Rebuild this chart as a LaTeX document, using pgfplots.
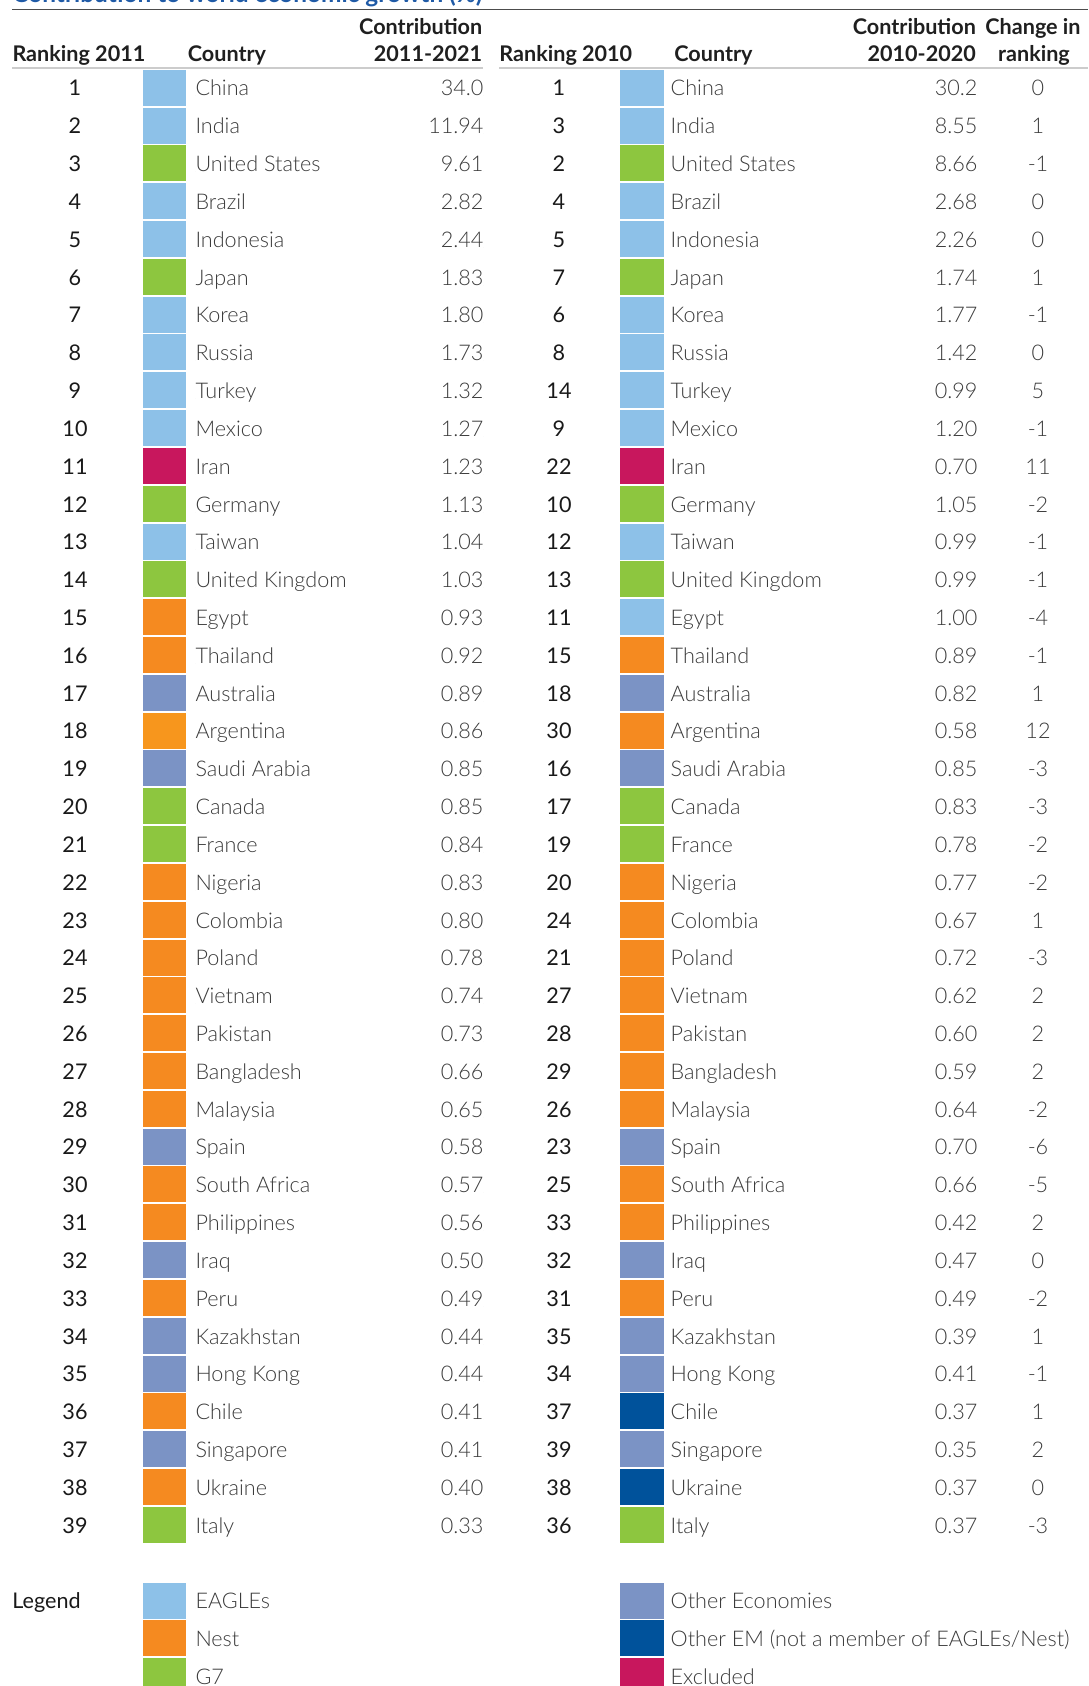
\documentclass[border=0pt]{standalone}
\usepackage{fontspec}
\usepackage{pgfplots}
\usepackage{pgfplotstable}
\pgfplotsset{compat=1.18}
\setmainfont{Lato Light}
\newfontfamily\reg{Lato}
\newfontfamily\hdr{Lato Bold}

\definecolor{cE}{HTML}{8DC1E8}
\definecolor{cN}{HTML}{F58A20}
\definecolor{cA}{HTML}{F7961D}
\definecolor{cG}{HTML}{8DC63F}
\definecolor{cO}{HTML}{7B93C5}
\definecolor{cM}{HTML}{00529B}
\definecolor{cX}{HTML}{C8175D}
\definecolor{ttl}{HTML}{1F5AA6}
\definecolor{txt}{HTML}{3A3A3A}

% left block: ranking 2011
\pgfplotstableread[col sep=comma]{
r,rk,c,v,g
1,1,China,34.0,E
2,2,India,11.94,E
3,3,United States,9.61,G
4,4,Brazil,2.82,E
5,5,Indonesia,2.44,E
6,6,Japan,1.83,G
7,7,Korea,1.80,E
8,8,Russia,1.73,E
9,9,Turkey,1.32,E
10,10,Mexico,1.27,E
11,11,Iran,1.23,X
12,12,Germany,1.13,G
13,13,Taiwan,1.04,E
14,14,United Kingdom,1.03,G
15,15,Egypt,0.93,N
16,16,Thailand,0.92,N
17,17,Australia,0.89,O
18,18,Argentina,0.86,A
19,19,Saudi Arabia,0.85,O
20,20,Canada,0.85,G
21,21,France,0.84,G
22,22,Nigeria,0.83,N
23,23,Colombia,0.80,N
24,24,Poland,0.78,N
25,25,Vietnam,0.74,N
26,26,Pakistan,0.73,N
27,27,Bangladesh,0.66,N
28,28,Malaysia,0.65,N
29,29,Spain,0.58,O
30,30,South Africa,0.57,N
31,31,Philippines,0.56,N
32,32,Iraq,0.50,O
33,33,Peru,0.49,N
34,34,Kazakhstan,0.44,O
35,35,Hong Kong,0.44,O
36,36,Chile,0.41,N
37,37,Singapore,0.41,O
38,38,Ukraine,0.40,N
39,39,Italy,0.33,G
}\tabL

% right block: ranking 2010 and change
\pgfplotstableread[col sep=comma]{
r,rk,c,v,g,ch
1,1,China,30.2,E,0
2,3,India,8.55,E,1
3,2,United States,8.66,G,-1
4,4,Brazil,2.68,E,0
5,5,Indonesia,2.26,E,0
6,7,Japan,1.74,G,1
7,6,Korea,1.77,E,-1
8,8,Russia,1.42,E,0
9,14,Turkey,0.99,E,5
10,9,Mexico,1.20,E,-1
11,22,Iran,0.70,X,11
12,10,Germany,1.05,G,-2
13,12,Taiwan,0.99,E,-1
14,13,United Kingdom,0.99,G,-1
15,11,Egypt,1.00,E,-4
16,15,Thailand,0.89,N,-1
17,18,Australia,0.82,O,1
18,30,Argentina,0.58,N,12
19,16,Saudi Arabia,0.85,O,-3
20,17,Canada,0.83,G,-3
21,19,France,0.78,G,-2
22,20,Nigeria,0.77,N,-2
23,24,Colombia,0.67,N,1
24,21,Poland,0.72,N,-3
25,27,Vietnam,0.62,N,2
26,28,Pakistan,0.60,N,2
27,29,Bangladesh,0.59,N,2
28,26,Malaysia,0.64,N,-2
29,23,Spain,0.70,O,-6
30,25,South Africa,0.66,N,-5
31,33,Philippines,0.42,N,2
32,32,Iraq,0.47,O,0
33,31,Peru,0.49,N,-2
34,35,Kazakhstan,0.39,O,1
35,34,Hong Kong,0.41,O,-1
36,37,Chile,0.37,M,1
37,39,Singapore,0.35,O,2
38,38,Ukraine,0.37,M,0
39,36,Italy,0.37,G,-3
}\tabR

\pgfplotstableread[col sep=comma]{
r,g,t
41,E,EAGLEs
42,N,Nest
43,G,G7
}\legL
\pgfplotstableread[col sep=comma]{
r,g,t
41,O,Other Economies
42,M,Other EM (not a member of EAGLEs/Nest)
43,X,Excluded
}\legR

% row centre and text baseline, in pixels from the top
\newcommand\rc{87.7+(\thisrow{r}-1)*37.82}
\newcommand\rb{96+(\thisrow{r}-1)*37.82}

\pgfplotsset{
  sw/.style={scatter, only marks, mark=square*, mark size=9pt,
    scatter src=explicit symbolic,
    mark options={xscale=1.222, draw opacity=0},
    scatter/classes={
      E={fill=cE}, N={fill=cN}, A={fill=cA},
      G={fill=cG}, O={fill=cO}, M={fill=cM},
      X={fill=cX}}},
  txt/.style={only marks, mark=*, mark size=0pt, mark options={draw=none,fill=none},
    point meta=explicit symbolic, nodes near coords,
    every node near coord/.append style={anchor=#1, inner sep=0pt, outer sep=0pt,
      text=txt, font=\fontsize{10.8}{12}\selectfont}},
  rnk/.style={txt=base, every node near coord/.append style={text=black!90,
      font=\reg\fontsize{10.8}{12}\selectfont}},
}

\begin{document}
\begin{tikzpicture}
\begin{axis}[
  scale only axis, width=544pt, height=843pt,
  xmin=0, xmax=1088, ymin=0, ymax=1686, y dir=reverse,
  hide axis, clip=false,
]
% title, cut by the page edge as in the source
\node[anchor=base west, inner sep=0pt, text=ttl, font=\hdr\fontsize{12.2}{14}\selectfont]
  at (12,3) {Contribution to world economic growth (\%)};
\draw[line width=0.75pt, black!70] (12,9.5) -- (1088,9.5);
\draw[line width=1pt, black!20] (12,68.5) -- (482.6,68.5);
\draw[line width=1pt, black!20] (499,68.5) -- (1088,68.5);

\begin{scope}[every node/.style={inner sep=0pt, font=\hdr\fontsize{10.8}{12}\selectfont, text=black!88}]
\node[anchor=base west] at (12.1,61.7) {Ranking 2011};
\node[anchor=base west] at (187.5,61.7) {Country};
\node[anchor=base east] at (482.6,35) {Contribution};
\node[anchor=base east] at (482.6,61.7) {2011-2021};
\node[anchor=base west] at (499,61.7) {Ranking 2010};
\node[anchor=base west] at (674,61.7) {Country};
\node[anchor=base east] at (976.3,35) {Contribution};
\node[anchor=base east] at (976.3,61.7) {2010-2020};
\node[anchor=base] at (1033,35) {Change in};
\node[anchor=base] at (1034,61.7) {ranking};
\end{scope}

% colour swatches
\addplot[sw] table[x expr=164.5, y expr={\rc}, meta=g] {\tabL};
\addplot[sw] table[x expr=641.8, y expr={\rc}, meta=g] {\tabR};
\addplot[sw] table[x expr=164.5, y expr={\rc}, meta=g] {\legL};
\addplot[sw] table[x expr=641.8, y expr={\rc}, meta=g] {\legR};

% left block text
\addplot[rnk] table[x expr=75, y expr={\rb}, meta=rk] {\tabL};
\addplot[txt=base west] table[x expr=195.5, y expr={\rb}, meta=c] {\tabL};
\addplot[txt=base east] table[x expr=483.5, y expr={\rb}, meta=v] {\tabL};

% right block text
\addplot[rnk] table[x expr=559, y expr={\rb}, meta=rk] {\tabR};
\addplot[txt=base west] table[x expr=670.7, y expr={\rb}, meta=c] {\tabR};
\addplot[txt=base east] table[x expr=977.5, y expr={\rb}, meta=v] {\tabR};
\addplot[txt=base] table[x expr=1038, y expr={\rb}, meta=ch] {\tabR};

% legend
\addplot[txt=base west] table[x expr=195.5, y expr={\rb}, meta=t] {\legL};
\addplot[txt=base west] table[x expr=670.7, y expr={\rb}, meta=t] {\legR};
\node[anchor=base west, inner sep=0pt, text=black!90, font=\reg\fontsize{10.8}{12}\selectfont]
  at (12,1608.8) {Legend};
\end{axis}
\pgfresetboundingbox
\path[use as bounding box] (0,0) rectangle (544pt,843pt);
\end{tikzpicture}
\end{document}
